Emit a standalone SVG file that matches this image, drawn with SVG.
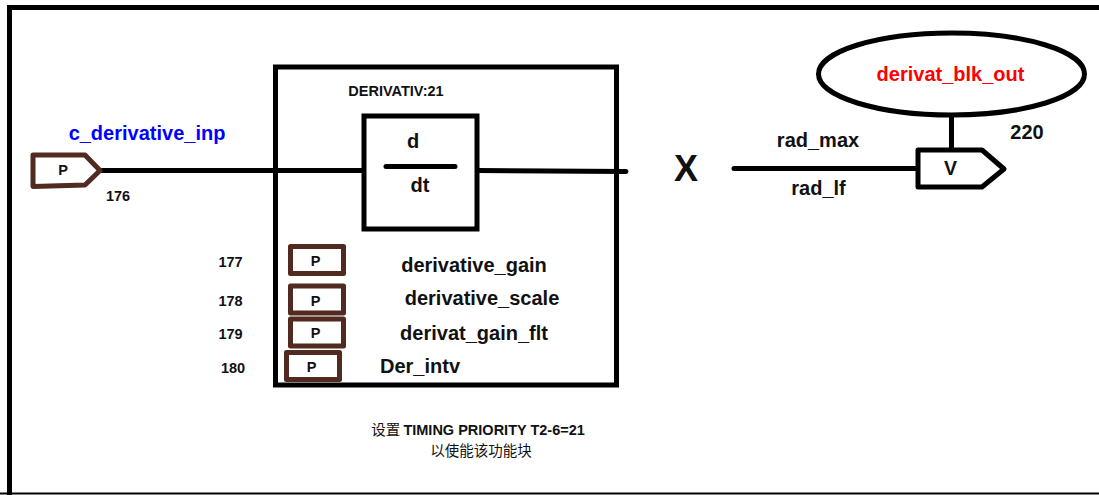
<svg xmlns="http://www.w3.org/2000/svg" width="1099" height="495" viewBox="0 0 1099 495">
<style>
text{font-family:"Liberation Sans","Noto Sans CJK SC",sans-serif;font-weight:bold;fill:#111;text-anchor:middle}
.blk{fill:none;stroke:#000;stroke-width:5;stroke-linejoin:miter}
.wire{fill:none;stroke:#000;stroke-width:5;stroke-linecap:round}
.pin{fill:#fff;stroke:#512a20;stroke-width:5;stroke-linejoin:round}
.s14{font-size:14.5px}.s20{font-size:20px}.s19{font-size:19.5px}.cn{font-size:14.5px;font-weight:normal;font-family:"Noto Sans CJK SC",sans-serif}
</style>
<rect width="1099" height="495" fill="#fff"/>
<path d="M1099 7.500H9.500V495" fill="none" stroke="#000" stroke-width="5"/>
<path d="M0 493.500H1099" stroke="#000" stroke-width="2"/>
<g id="connectors">
<path class="wire" d="M102 170.500H365"/>
<path class="wire" d="M477 170.500L626 171.500"/>
<path class="wire" d="M734 168.500H918"/>
<path class="wire" d="M951.500 116V150" style="stroke-linecap:butt"/>
</g>
<g id="block"><rect class="blk" x="275.500" y="67" width="341" height="318"/><text x="396" y="96" class="s14">DERIVATIV:21</text></g>
<g id="ddt">
<rect x="364" y="116" width="113" height="113" fill="#fff" stroke="#000" stroke-width="5"/>
<path class="wire" d="M386 166.500H455"/>
<text x="413" y="148" class="s20">d</text><text x="420" y="192" class="s20">dt</text>
</g>
<g id="pin176"><path class="pin" d="M33 155H85L100 170.500L85 185L33 186.500Z"/><text x="63" y="175" class="s14">P</text><text x="118" y="201" class="s14">176</text></g>
<text id="lbl-inp" x="147" y="140" class="s20" style="fill:#0000ff">c_derivative_inp</text>
<g id="pin177"><rect class="pin" x="290.500" y="246.500" width="53" height="27"/><text x="315.500" y="266" class="s14">P</text><text x="230.500" y="267" class="s14">177</text><text x="474" y="272" class="s20">derivative_gain</text></g>
<g id="pin178"><rect class="pin" x="290.500" y="286" width="53" height="27"/><text x="315.500" y="305.500" class="s14">P</text><text x="230.500" y="306" class="s14">178</text><text x="482" y="305" class="s20">derivative_scale</text></g>
<g id="pin179"><rect class="pin" x="290.500" y="319" width="53" height="27"/><text x="315.500" y="338" class="s14">P</text><text x="230.500" y="339" class="s14">179</text><text x="474" y="340" class="s20">derivat_gain_flt</text></g>
<g id="pin180"><rect class="pin" x="286.500" y="352.500" width="53" height="27"/><text x="311.500" y="371.500" class="s14">P</text><text x="233" y="373" class="s14">180</text><text x="420" y="373" class="s20">Der_intv</text></g>
<text x="686" y="181" style="font-size:36px">X</text>
<text x="818" y="147" class="s20">rad_max</text>
<text x="818.500" y="195" class="s20">rad_lf</text>
<g id="out"><ellipse cx="951.500" cy="74" rx="133" ry="41" fill="#fff" stroke="#000" stroke-width="5"/><text x="950.500" y="81" class="s20" style="fill:#ff0000">derivat_blk_out</text></g>
<text x="1027" y="139" class="s20">220</text>
<g id="v"><path d="M918 150H982L1004 169L982 187H918Z" fill="#fff" stroke="#000" stroke-width="5" stroke-linejoin="round"/><text x="950.500" y="175" class="s19">V</text></g>
<text x="478" y="435" class="s14" xml:space="preserve"><tspan class="cn">设置 </tspan>TIMING PRIORITY T2-6=21</text>
<text x="481" y="456" class="cn">以使能该功能块</text>
</svg>
